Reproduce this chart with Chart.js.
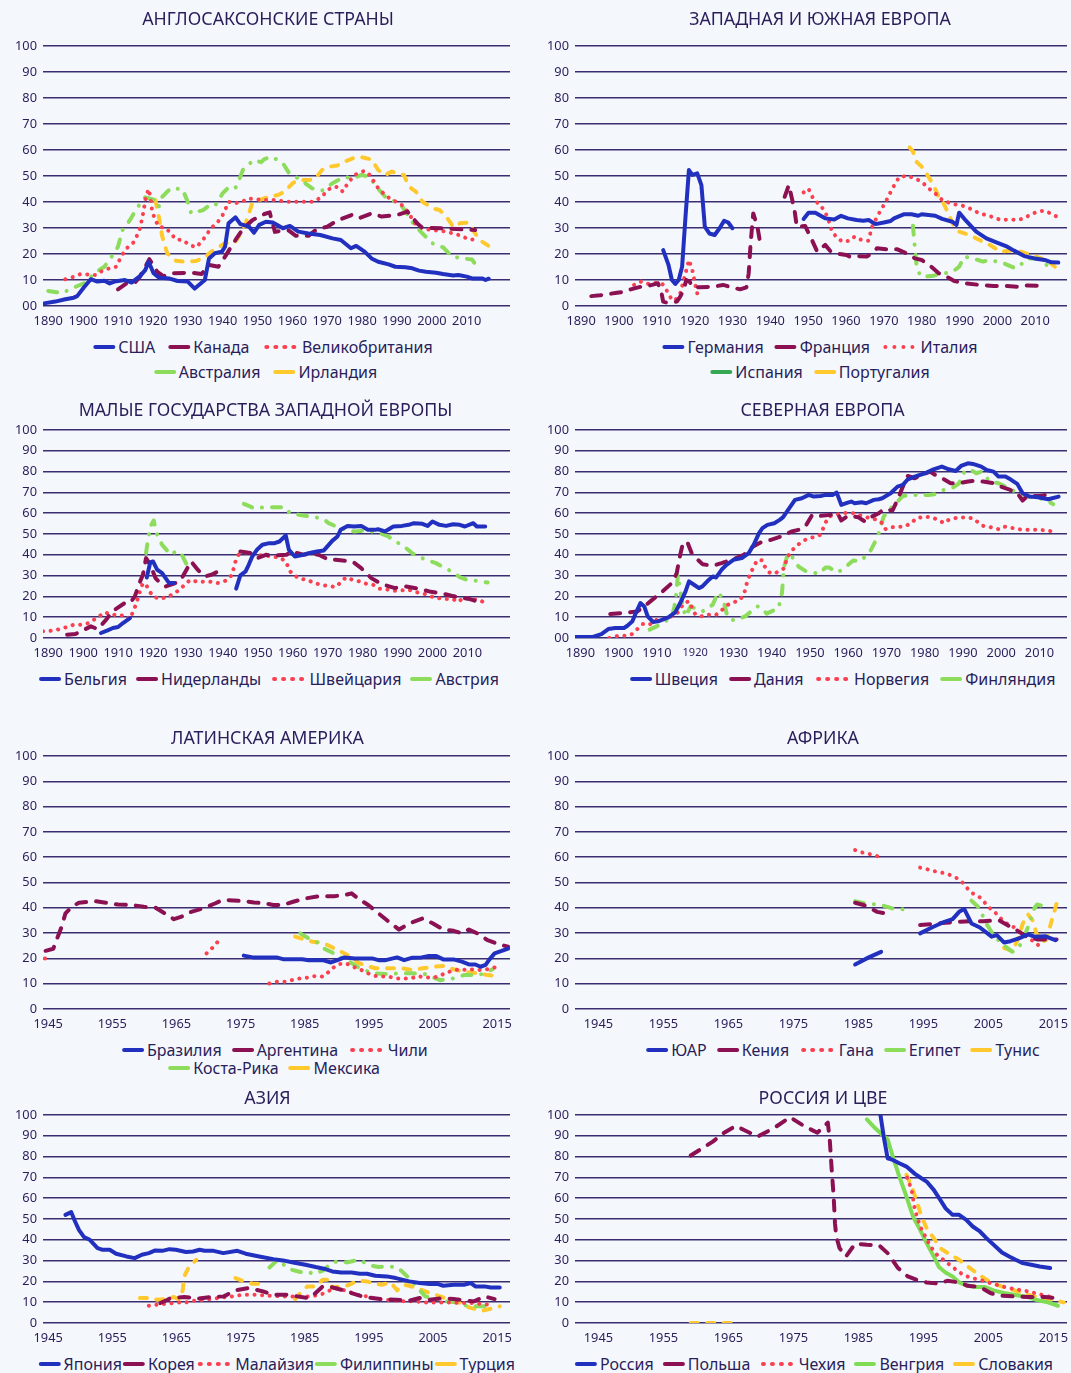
<!DOCTYPE html>
<html>
<head>
<meta charset="utf-8">
<script src="https://cdn.jsdelivr.net/npm/chart.js@4.4.1/dist/chart.umd.min.js"></script>
<style>
  body { margin: 0; width: 1071px; height: 1373px; overflow: hidden; position: relative;
         background: #f4f8fd; font-family: 'Noto Sans', sans-serif; color: #2a1d5a; }
  canvas { position: absolute; }
  .ttl { position: absolute; font-size: 17.8px; white-space: nowrap; transform: translate(-50%, -50%); }
  .lg { position: absolute; display: flex; align-items: center; white-space: nowrap;
        font-size: 16px; transform: translate(-50%, -50%); }
  .it { display: flex; align-items: center; }
  .sw { display: block; width: 22px; height: 4.5px; border-radius: 2.5px; margin-right: 3px; }
  .dots { display: flex; gap: 4.5px; margin-right: 6px; margin-left: 2px; }
  .dots i { display: block; width: 4.5px; height: 4.5px; border-radius: 2.5px; }
</style>
</head>
<body>
<script>
// ── Palette / fonts ────────────────────────────────────────────────────────
const BLUE = '#2230c0', MAROON = '#8c1152', RED = '#fb4050', GREEN = '#8edc5c', YELLOW = '#ffc92e';
const INK = '#2a1d5a';
const GRID = '#3a2e70';
const FONT = "'Noto Sans', sans-serif";

// ── Tick labels ────────────────────────────────────────────────────────────
const yearTicksLong = [1890, 1900, 1910, 1920, 1930, 1940, 1950, 1960, 1970, 1980, 1990, 2000, 2010];
const yearTicksShort = [1945, 1955, 1965, 1975, 1985, 1995, 2005, 2015];

// ── Англосаксонские страны ─────────────────────────────────────────────────
const usa = [[1888.8,1],[1892,1.7],[1894.9,2.6],[1897.3,3.2],[1898.3,3.8],[1900.2,7.1],[1902.2,10.3],[1904.1,9.4],[1906.1,9.7],[1907.6,8.7],[1909,9.4],[1912,10],[1913.9,9],[1916.3,11.5],[1917.8,13.8],[1918.8,17],[1920.2,12.6],[1921.7,11],[1924.6,10.6],[1927.1,9.6],[1930,9.4],[1932,6.7],[1934.9,10],[1936.1,18.3],[1937.8,20.3],[1939.8,20.9],[1940.7,22.8],[1941.7,31.8],[1943.7,34.1],[1945.1,31.5],[1947.6,30.5],[1949,28.2],[1950.5,31.2],[1952.4,32.4],[1954.4,32.1],[1957.3,29.9],[1959.3,30.8],[1961.7,28.6],[1964.6,27.9],[1968,27.3],[1971.5,26],[1973.9,25.4],[1976.8,22.2],[1978.3,23.1],[1980.7,20.9],[1982.7,18.3],[1984.6,17],[1987.6,16],[1989.5,15.1],[1992.4,14.9],[1994.4,14.5],[1996.3,13.6],[1998.3,13.2],[2001.2,12.8],[2003.2,12.3],[2006.1,11.7],[2007.6,11.9],[2010,11.3],[2011.5,10.6],[2014.4,10.6],[2015.4,10],[2016.3,10.5]];
const canada = [[1910,6.4],[1912.4,8.7],[1914.9,9],[1916.3,11.3],[1919,18],[1921.2,13.2],[1923,11.5],[1926,12.6],[1931,12.8],[1934,12.3],[1936,15.8],[1938.8,15.1],[1940.7,19],[1943.7,25.4],[1945.6,29.2],[1948.5,33],[1952,35.4],[1953.5,36],[1955,28.5],[1957,29],[1959,29],[1961,27],[1964.6,27],[1967,29.5],[1970,30.5],[1973,33],[1977,35],[1979,33.7],[1982.7,35.6],[1985.6,34.4],[1990,35],[1993,36.3],[1996,31.5],[1997.3,30],[2003,29.9],[2012.4,29.2]];
const uk = [[1894.9,10.3],[1896.8,11],[1899.3,12.3],[1903.7,11.9],[1905.6,13.6],[1907.6,14.5],[1909.5,15.1],[1910.5,17.9],[1911.5,20.3],[1912.9,22.8],[1914.4,24.4],[1915.4,26.9],[1916.3,29.9],[1916.8,33],[1917.3,36.3],[1918,42],[1918.8,45],[1919.3,42],[1919.8,36.3],[1920.7,33],[1921.7,30.5],[1923.7,30],[1925.1,28],[1926.6,25.6],[1928.5,25.4],[1930.5,23.5],[1932.4,22.6],[1933.9,24.7],[1935.4,27.3],[1936.6,29.9],[1938.3,31.8],[1939.8,34.4],[1940.7,36.9],[1941.7,40.1],[1943.5,39.5],[1945.6,40.1],[1947.4,41.4],[1949.5,41],[1951.5,40.8],[1954.4,40.8],[1958.3,40.1],[1962.2,40.1],[1966.1,40.1],[1968.5,42],[1970,44.6],[1971.9,45.9],[1973.4,45.6],[1974.4,44],[1975.9,47.2],[1977.8,50.4],[1979.3,51.3],[1980.7,52],[1982.2,50.4],[1983.7,47.2],[1984.6,45.3],[1986.6,42.7],[1988.5,40.8],[1990.5,39.7],[1992,38.2],[1993.4,35.6],[1995.4,31.2],[1997.3,29.9],[1999.8,29.2],[2002.2,29],[2004.1,28.6],[2006.1,27.9],[2008.5,27],[2010.5,25.6],[2012.4,25.6]];
const australia = [[1890,5.8],[1892.4,5.3],[1893.9,4.9],[1896.8,6.8],[1900.7,9],[1903.2,12.6],[1906.1,15.1],[1908.5,19.6],[1910,22.8],[1911.3,29.2],[1913.4,33],[1915.4,37.6],[1917.8,41.8],[1920.7,40.8],[1921.7,38.2],[1922.7,42],[1925.1,45.3],[1928.5,44.9],[1930,40.1],[1931,35.6],[1934.4,36.9],[1936.3,38.8],[1937.8,38.5],[1940,43.3],[1941.9,45.9],[1943.7,45.5],[1944.4,47.4],[1945.9,52.6],[1949,56.2],[1951,55.3],[1952,56.5],[1954.1,57.4],[1957.3,54.9],[1959.1,51],[1962.2,48.7],[1965.6,45.3],[1968.5,44.4],[1971.5,47.2],[1974.9,49.7],[1977.3,49.1],[1979.8,50.4],[1982.2,49.7],[1983.7,46.5],[1986.6,42],[1989.5,40.1],[1991.5,38.2],[1993.4,34.4],[1994.9,31.2],[1997.3,27.9],[2000.2,24.1],[2002.2,22.8],[2003.2,22.6],[2005.8,19],[2009,18.3],[2011.5,17.9],[2012.4,16.2]];
const ireland = [[1920.7,40.8],[1921.7,34.4],[1922.7,26.7],[1924.1,20.3],[1926.6,17.4],[1929.5,17],[1932.4,17.3],[1934.9,18.7],[1937.3,21.5],[1940.7,24.1],[1943.7,24.7],[1945.1,27.9],[1946.6,31.8],[1948.5,39.5],[1950.5,40.8],[1953.4,42],[1955.9,42.7],[1957.8,44],[1960.2,47.4],[1962.2,48.5],[1965.1,48.5],[1966.6,49.1],[1968.5,52.3],[1970.5,53.6],[1972.9,54],[1974.9,55.5],[1977.3,56.8],[1979.3,57.4],[1981.2,56.8],[1982.7,56.4],[1984.6,52.3],[1986.6,50.4],[1988.5,51.7],[1990,51],[1992,50.4],[1993.4,45.9],[1995.4,44],[1997.3,40.1],[2000.2,37.6],[2002.2,36.9],[2004.1,34.4],[2006.1,30.5],[2008,31.8],[2010.5,32.1],[2012.4,27.9],[2014.4,24.7],[2016.3,23.1]];

// ── Западная и Южная Европа ────────────────────────────────────────────────
const germany = [[1911.7,21.5],[1913.1,15.8],[1914,10],[1914.9,8.5],[1915.8,10],[1916.7,15.1],[1917.6,34.4],[1918.5,52.3],[1919.4,50.4],[1920.7,51],[1921.8,46.5],[1922.7,30.5],[1923.9,27.9],[1925.3,27.3],[1926.6,29.9],[1927.8,32.8],[1928.9,32.1],[1930,29.9],[1940,null],[1948.8,33.5],[1950.1,35.9],[1951.9,35.9],[1954.6,33.7],[1956.9,33.3],[1958.7,34.7],[1960.5,33.7],[1962.8,33.1],[1964.6,32.8],[1966,33.1],[1967.8,31.5],[1970,32.1],[1971.8,32.7],[1972.7,33.7],[1975.4,35.3],[1977.3,35.3],[1979.1,34.7],[1980,35.3],[1983.6,34.7],[1985.4,33.5],[1988.1,32.4],[1989.2,31.2],[1989.9,35.9],[1991.7,32.8],[1994.4,28.6],[1997.1,26],[1999.9,24.4],[2002.6,22.8],[2004.4,21.3],[2007.1,19.2],[2009.8,18.3],[2012.5,17.7],[2014.3,16.8],[2016.1,16.7]];
const france = [[1892.7,3.8],[1895,4.1],[1899.5,5.1],[1901.3,5.4],[1903.1,6.4],[1905.8,7.4],[1907.6,7.7],[1910.3,8.7],[1911.1,6.2],[1911.7,1.7],[1912.6,1.3],[1915.3,1.7],[1916.2,3.6],[1917.1,6.2],[1917.8,10],[1918.7,9.4],[1919.4,7.4],[1921.2,7.2],[1924.8,7.4],[1927.5,8.1],[1929.8,7.2],[1932,6.4],[1933.7,7.2],[1934.3,12.6],[1934.8,24.1],[1935.5,35.6],[1936.6,30.5],[1937.5,22.8],[1940,null],[1943.8,42],[1944.9,46.5],[1945.8,40.8],[1946.5,35.9],[1947,30.5],[1949.2,30.8],[1950.6,26.7],[1952.4,20.9],[1954.5,23.5],[1956,20.9],[1958.3,20],[1960.1,19.6],[1961,19],[1963.2,19.2],[1965.5,19],[1966.9,20.3],[1968.2,22.2],[1970.9,21.8],[1973.6,21.8],[1976.3,20],[1978.2,18.3],[1980,17.7],[1982.7,14.9],[1984.5,12.6],[1985.8,11.9],[1988.6,9.6],[1991.7,8.7],[1995.3,8.1],[1999,7.7],[2002.6,7.7],[2005.3,7.4],[2008,7.9],[2012.5,7.7]];
const italy = [[1904,8.1],[1905.8,9.4],[1907.6,8.5],[1909.9,9],[1911.4,8.7],[1913.1,4.9],[1914,2.3],[1914.9,2.3],[1916.2,4.9],[1917.6,12.6],[1918.5,17.7],[1919.4,13.8],[1920.1,8.7],[1920.7,4.9],[1935,null],[1948.8,43.7],[1950.1,45.1],[1951.5,40.8],[1953.3,38.8],[1955.1,34.4],[1956.3,28.6],[1957.8,26],[1959.2,24.7],[1961,25.1],[1962.3,26.7],[1964.1,25.4],[1965.9,25.1],[1966.9,30.5],[1968.7,35.6],[1970.5,40.1],[1972.3,45.3],[1974.1,49.7],[1976.3,50],[1978.2,49.1],[1980,47.8],[1981.8,45.3],[1983.6,43.3],[1985.4,40.8],[1988.1,39.2],[1990.4,38.8],[1992.6,37.6],[1995.3,35.6],[1998,34.6],[2000.8,33.1],[2003.5,33.3],[2005.3,33.1],[2007.1,33.7],[2008.9,35.3],[2010.7,36.3],[2012.5,36.7],[2014.3,35.4],[2016.1,34.1]];
const spain = [[1977.7,30.9],[1978,25.4],[1978.3,21.3],[1978.6,16.4],[1979.5,11.9],[1980,11.3],[1982.7,11.5],[1985.8,12.6],[1987.6,12.8],[1989,14.1],[1989.9,15.1],[1991.3,19],[1994.9,17.7],[1996.2,17.1],[1998,17.7],[2001.7,16.4],[2004.8,14.5],[2006.6,16.4],[2008,18.3],[2010.7,18.3],[2012.5,16.4],[2014.8,13.8]];
const portugal = [[1976.8,61],[1977.7,59.4],[1978.6,55.5],[1980,53.6],[1981.8,49.7],[1983.1,46.5],[1984.5,42],[1985.8,39.5],[1987.2,35],[1988.6,30.5],[1989.9,28.6],[1992.6,27.3],[1995.3,25.4],[1998,23.5],[2000.8,20.9],[2003.5,21.3],[2006.2,20.9],[2008.9,19.6],[2011.6,18.3],[2013.4,17.1],[2015.2,15.1]];

// ── Малые государства Западной Европы ──────────────────────────────────────
const belgium = [[1905.1,2.4],[1907,3.7],[1908.5,4.8],[1910,5.3],[1911.4,7.2],[1913.4,9.6],[1916,null],[1918.2,29.1],[1919.2,36.3],[1920,36.8],[1921.2,32.8],[1922.6,31.2],[1923.6,28.8],[1924.6,26.4],[1926,26.4],[1935,null],[1943.8,23.7],[1945,30.1],[1946.5,32],[1947.4,35.2],[1948.4,39.2],[1949.9,42.7],[1951.3,44.8],[1953.3,45.6],[1954.8,45.6],[1956.2,46.4],[1958,49.3],[1958.9,42.4],[1960.6,39.2],[1963,40],[1964.5,40.8],[1966.9,41.6],[1968.9,42.1],[1970.3,44.8],[1971.3,46.7],[1972.8,48.8],[1973.7,52],[1975.7,53.9],[1977.6,53.6],[1979.6,53.9],[1981.5,52],[1983.5,52],[1984.4,52.3],[1986.4,51.2],[1988.8,53.6],[1991.3,53.9],[1993.2,54.4],[1994.7,55.2],[1997.1,54.9],[1998.6,53.9],[2000,56],[2002,54.4],[2003.9,53.9],[2005.9,54.7],[2007.8,54.4],[2009.3,53.6],[2011.7,55.2],[2012.7,53.6],[2015.1,53.6]];
const netherlands = [[1895.4,1.6],[1897.8,1.9],[1902.2,5.6],[1904.1,4.3],[1906.6,8.8],[1908.3,12.8],[1911.9,16.8],[1913.4,16.8],[1914.8,20],[1916.1,26.4],[1917.1,30.4],[1918,38.4],[1919.2,35.2],[1920.7,28.8],[1922.1,26.4],[1923.6,24.8],[1927,26.7],[1928.5,29.6],[1930.9,36.8],[1932.8,32.8],[1934.8,29.6],[1936.7,30.4],[1938.7,32],[1942,null],[1945,41.6],[1947.9,40.8],[1949.9,38.4],[1952.3,40],[1955.2,39.7],[1958.2,40],[1959.6,41.6],[1963,40],[1965.5,40.8],[1967.9,39.7],[1970.3,37.6],[1972.3,37.6],[1977.1,36.8],[1979.6,33.6],[1982.5,28.8],[1985.4,25.9],[1989.3,24],[1992.2,24.8],[1996.1,23.7],[1999.1,22.4],[2003,21.3],[2005.4,20.3],[2008.8,19.2],[2010.7,18.7],[2012.7,17.6]];
const switzerland = [[1888.5,3.2],[1891,3.5],[1893.4,4.3],[1895.4,5.3],[1897.3,6.4],[1899.7,6.4],[1901.7,7.2],[1903.1,8.8],[1904.6,10.4],[1906.1,12.3],[1907.5,11.7],[1910,10.7],[1911.9,11],[1913.4,9.1],[1914.3,12.8],[1915.1,16],[1916.3,22.7],[1917.1,26.4],[1918,25.6],[1919,22.4],[1920.2,19.7],[1922.1,18.9],[1924.1,19.7],[1926,21.3],[1928,23.7],[1929.4,26.4],[1930.9,28],[1932.8,26.9],[1935.8,27.2],[1938.7,26.4],[1941.1,27.7],[1942.6,30.4],[1943.6,36.8],[1944.5,40],[1946.5,41.1],[1948.9,40],[1951.3,39.7],[1954.3,39.2],[1956.7,38.4],[1958.2,36.3],[1958.9,32.8],[1960.1,30.4],[1962.1,28.5],[1964,28],[1965.9,26.7],[1967.9,25.6],[1969.8,25.1],[1972.3,24.5],[1973.7,26.7],[1975.2,29.1],[1977.1,28],[1979.1,27.2],[1981,26.1],[1983,25.6],[1984.9,23.7],[1987.4,23.2],[1989.3,22.7],[1991.3,22.9],[1993.2,23.2],[1995.2,22.1],[1997.6,21.3],[1999.5,20],[2001.5,19.2],[2003.9,18.7],[2005.9,18.7],[2007.3,17.3],[2008.8,19.2],[2011.2,18.7],[2013.2,18.4],[2014.6,17.3]];
const austria = [[1918,40.8],[1918.4,45.6],[1919.2,53.6],[1920.2,56.5],[1921,50.4],[1922.6,44.8],[1925.1,40],[1926.5,41.6],[1928,40.8],[1929.9,34.4],[1938,null],[1946,64.5],[1947.4,63.5],[1948.9,62.4],[1952.5,62.9],[1956.7,62.9],[1958.2,62.4],[1959.1,60],[1963,58.9],[1966.9,57.9],[1968.9,57.1],[1970.3,55.2],[1973.5,52.8],[1977.6,51.2],[1979.6,51.5],[1981.5,51.7],[1985.4,50.1],[1987.4,48.8],[1989.3,46.4],[1991.3,44.8],[1994.4,40.5],[1998.1,37.6],[2001,36],[2005.1,32.3],[2007.8,29.3],[2009.8,28],[2011.7,27.7],[2015.8,26.7]];

// ── Северная Европа ────────────────────────────────────────────────────────
const sweden = [[1888.8,0.5],[1893.3,0.5],[1895.5,1.9],[1897.3,4.3],[1899.1,4.8],[1901.4,4.8],[1902.3,5.9],[1903.6,8],[1904.5,12],[1905.7,16.8],[1906.7,15.2],[1907.6,10.4],[1909,7.7],[1910.3,8],[1913,9.9],[1914.8,12.3],[1916.1,16.8],[1917.5,22.4],[1918.4,27.2],[1919.7,25.6],[1921,24],[1921.9,24.8],[1923.3,27.5],[1924.6,29.6],[1925.5,29.1],[1926.9,32.8],[1928.2,35.2],[1930,37.6],[1932.2,38.4],[1934,40.8],[1935.3,44.8],[1936.7,50.4],[1937.6,52.8],[1938.9,54.4],[1940.7,55.2],[1942.1,56.8],[1943,58.1],[1944.3,61.6],[1946.1,66.4],[1947.9,67.2],[1949.7,68.8],[1951,68],[1952.8,68.3],[1954.1,68.8],[1955.9,68.8],[1957,69.9],[1958.2,64],[1959.9,65.1],[1960.8,65.6],[1961.7,64.8],[1963.5,65.3],[1964.7,64.8],[1966.7,66.4],[1968,66.7],[1968.9,67.2],[1971.1,69.6],[1972.9,72.8],[1974.3,73.6],[1975.6,76.3],[1977.4,77.6],[1980.1,79.2],[1981.9,80.8],[1984.5,82.4],[1986.3,81.1],[1988.1,80.3],[1989.5,82.7],[1991.3,84],[1992.6,83.7],[1994.8,82.4],[1996.2,80.8],[1998,80],[1999.3,77.6],[2001.1,77.6],[2002.4,76.3],[2004.2,74.1],[2005.6,69.6],[2007.4,68],[2009.6,67.7],[2012.3,66.7],[2015,68]];
const denmark = [[1897.8,11.5],[1900.9,12],[1904.9,12.8],[1906.7,15.2],[1909,18.7],[1911.2,21.9],[1913.9,26.4],[1915.2,31.2],[1915.9,38.4],[1916.7,44.8],[1917.9,46.4],[1919.2,40.3],[1921.9,35.5],[1924.6,34.7],[1926.9,36],[1930,37.9],[1932.7,40],[1934.9,43.7],[1937.1,45.9],[1939.8,47.2],[1942.5,48.8],[1945.2,51.2],[1947,52],[1948.8,53.6],[1950.6,59.2],[1952.3,58.7],[1955.5,59.2],[1957.3,59.7],[1958.2,56.5],[1959.9,58.7],[1962.6,58.1],[1964.4,56],[1966.2,58.4],[1968,60],[1969.3,61.9],[1971.6,61.3],[1972.9,66.4],[1974.3,72.8],[1975.6,77.9],[1977.4,76.8],[1979.2,78.4],[1981.4,80],[1983.2,77.9],[1985,76.3],[1986.8,74.4],[1989,74.4],[1991.3,75.2],[1993.5,75.7],[1995.3,75.2],[1998,74.4],[1999.8,72.8],[2002,71.5],[2004.2,69.6],[2005.6,66.1],[2006.9,68.3],[2010,68.3],[2011.8,68.8],[2013.6,67.2]];
const norway = [[1897.6,0],[1900,1.1],[1901.8,1.1],[1903.6,1.9],[1904.9,4.3],[1906.3,6.7],[1908.1,6.4],[1909.4,8.5],[1911.6,9.1],[1913.4,10.1],[1915.2,11.7],[1916.1,13.9],[1917,16.8],[1918.4,17.6],[1919.2,14.4],[1920.1,11.2],[1921.9,10.4],[1923.7,11.2],[1925.5,11.2],[1927.1,13.6],[1928.6,16],[1930,17.1],[1931.8,18.4],[1932.8,21.3],[1933.7,27.7],[1934.6,31.5],[1935.5,35.2],[1936.4,37.6],[1937.6,37.3],[1938.2,34.4],[1939.4,31.5],[1940.7,30.9],[1943.4,33.6],[1943.8,37.3],[1944.7,40.8],[1945.9,43.2],[1947.4,45.6],[1948.8,47.2],[1950.6,48.3],[1952.8,49.6],[1954,55.2],[1955,58.4],[1956.8,59.2],[1958.6,60],[1960.4,60.3],[1962.2,59.7],[1964,58.4],[1965.8,57.6],[1967.6,56.8],[1968.9,55.2],[1969.8,52.3],[1971.6,53.3],[1974.7,53.6],[1976.5,55.2],[1977.8,57.6],[1980.1,58.4],[1981.9,57.9],[1983.6,56.8],[1985,55.2],[1986.3,56.8],[1988.6,57.9],[1990.4,57.9],[1992.6,57.6],[1993.9,55.7],[1995.3,53.9],[1997.1,53.3],[1999.3,52.3],[2000.6,53.6],[2002.4,53.1],[2004.2,52.3],[2006.9,52],[2009.6,52],[2012.3,51.7],[2014.1,50.7]];
const finland = [[1908.1,4],[1910.3,5.9],[1911.6,7.2],[1913.9,10.1],[1914.6,15.2],[1915,20],[1915.5,30.4],[1916.1,23.2],[1916.7,16],[1917.5,10.4],[1918.8,15.2],[1921.9,12.8],[1924.6,16],[1926,21.9],[1927.3,18.7],[1928.2,12],[1929.1,8.8],[1930.4,8.5],[1933.1,10.4],[1936.2,15.2],[1937.1,14.9],[1938.7,11.7],[1941.8,14.4],[1942.7,21.6],[1943.2,33.9],[1944.3,40.8],[1945.6,38.4],[1947,34.4],[1948.8,32.3],[1952.3,30.9],[1954.1,33.9],[1955,33.9],[1957.3,31.5],[1959.5,34.4],[1961.3,37.3],[1963.1,36.8],[1965.6,41.1],[1967.1,46.4],[1968,50.4],[1969.3,58.4],[1971.1,62.4],[1972.9,65.6],[1974.3,68.3],[1977.4,68.8],[1981,68.8],[1983.2,69.3],[1985,71.2],[1987.4,72.3],[1989,74.4],[1990.4,80],[1991.7,81.1],[1993.5,79.2],[1994.8,80],[1997.1,75.2],[1999.3,74.4],[2001.1,72.8],[2002.4,71.5],[2004.2,69.9],[2006.9,68],[2009.6,67.2],[2011.4,66.7],[2013.6,64.3]];

// ── Латинская Америка ──────────────────────────────────────────────────────
const brazil = [[1975.5,21.1],[1976.9,20.4],[1980.6,20.4],[1981.6,19.7],[1984.6,19.7],[1985.6,19.3],[1987.8,19.3],[1989.1,18.4],[1990.1,19.3],[1991.2,20.4],[1992.8,20],[1995.5,20],[1996.5,19.3],[1997.6,19.3],[1999.4,20.4],[2000.5,19.3],[2001.8,20.3],[2003.2,20.4],[2004.2,20.9],[2005.5,20.9],[2006.6,19.6],[2008.2,19.6],[2009.5,18.7],[2010.6,17.6],[2011.6,17.6],[2012.4,16.7],[2013.2,17.4],[2013.8,19.6],[2014.6,22],[2015.6,22.9],[2016.7,23.9]];
const argentina = [[1944.6,23],[1945.8,23.8],[1946.3,27.2],[1947,31.8],[1947.7,37.8],[1948.7,40.4],[1949.8,42],[1952.4,42.6],[1954,42],[1955.9,41.3],[1958,41.1],[1959.9,40.4],[1961.7,40.1],[1963.6,37.1],[1964.6,35.5],[1965.7,36.4],[1967.3,38.4],[1969.4,40],[1971,41.7],[1972.1,43],[1973.1,43],[1975.8,42.6],[1977.1,42.1],[1979,41.7],[1980.1,41.1],[1981.6,41.1],[1983.2,42.4],[1985.1,43.7],[1987.2,44.6],[1989.6,44.6],[1991.2,45],[1992.3,45.7],[1993.3,43.7],[1994.9,41.1],[1996.5,37.8],[1998.1,34.5],[1999.7,31.4],[2001.3,33.8],[2003.4,35.8],[2005,33.8],[2006.6,31.4],[2008.2,30.9],[2009.5,29.9],[2010.6,31.4],[2011.9,29.9],[2013.5,27.2],[2015.1,25.7],[2016.7,24.6]];
const chile = [[1944.5,20],[1944.8,20],[1957,null],[1969.7,22],[1970.5,23.9],[1971.3,26.2],[1972.2,28.3],[1976,null],[1979.5,10.1],[1980.6,10.8],[1981.9,10.8],[1983,11.4],[1984.3,12.1],[1985.4,12.4],[1986.4,13],[1987.8,12.8],[1988.5,14.1],[1989.3,16.1],[1990.4,17.8],[1991.5,18],[1992.5,16.7],[1993.6,15.7],[1994.7,14.3],[1995.7,13.2],[1996.8,12.8],[1998.1,12.8],[1999.2,12.1],[2000.5,12.1],[2001.6,12.1],[2002.6,13],[2003.7,12.5],[2005,12.4],[2006.1,13],[2006.9,14.3],[2009,15.7],[2010.3,15.4],[2011.4,15.7],[2012.4,15.4],[2013.5,15.7],[2014.6,16.4]];
const costaRica = [[1984.3,29.9],[1985.6,27.9],[1987,26.2],[1988,23.9],[1990.1,21.3],[1990.9,20],[1991.7,19.1],[1993.6,16.1],[1995.7,14.1],[1997.6,13.8],[1999.8,14.1],[2001.8,14.1],[2003.7,13.8],[2006.1,11.4],[2008.2,12.1],[2009.8,13.4],[2012.2,13.4],[2014.3,15.7]];
const mexico = [[1983.5,28.6],[1984.8,27.6],[1986.2,26.6],[1987.8,26.2],[1989.1,24.6],[1990.7,22.6],[1992.3,20.4],[1993.3,18.3],[1994.7,17],[1996,16.1],[1998.6,16.1],[2000.2,16.1],[2001.8,15.4],[2003.4,16.1],[2005,16.7],[2006.6,17],[2008.2,15.7],[2009.8,14.7],[2011.9,14.1],[2013.5,13.4],[2015.4,12.8]];

// ── Африка ─────────────────────────────────────────────────────────────────
const southAfrica = [[1984.5,17.6],[1986.6,20.4],[1988.5,22.6],[1991,null],[1994.5,29.9],[1996.3,32.2],[1997.9,34.1],[1999.5,35.5],[2000.5,38.4],[2001.3,39.5],[2002.4,33.8],[2003.7,32.2],[2005.5,28.6],[2006.3,29.2],[2007.4,26.3],[2008.4,26.8],[2009.7,27.9],[2011.1,29.5],[2012.1,28.6],[2013.7,28.8],[2015.3,27.2]];
const kenya = [[1984.5,42],[1985.8,41.1],[1987.9,38.4],[1989.7,37.5],[1992,null],[1994.5,33.2],[1996.3,33.6],[1998.4,34.1],[2000.5,34.5],[2002.6,34.7],[2004.2,34.7],[2006.6,35.1],[2007.9,33.2],[2009.5,30.9],[2011.1,28.3],[2012.6,27.5],[2015.5,27.5]];
const ghana = [[1984.5,62.8],[1985.8,61.7],[1986.8,61.2],[1987.9,60.4],[1991,null],[1994.5,55.9],[1995.8,55.1],[1997.1,54.2],[1998.4,53.6],[1999.5,52.6],[2000.5,51.2],[2001.3,49.3],[2001.8,47.6],[2002.6,45.7],[2003.7,44.1],[2005.3,39.7],[2006.1,38],[2006.9,35.8],[2007.6,34.1],[2008.7,32.8],[2010,29.9],[2011.3,27.9],[2012.4,25.9],[2013.4,23.6]];
const egypt = [[1984.5,42.6],[1986.1,41.7],[1988.5,41.1],[1990.3,39.7],[1992.4,39.3],[1997,null],[2002.4,42.8],[2003.7,39.7],[2004.5,34.5],[2005.8,29.2],[2007.1,25.7],[2008.7,22.6],[2009.7,24.3],[2010.5,28.6],[2011.3,33.6],[2011.9,39.1],[2012.5,41.3],[2013.4,40.7]];
const tunisia = [[2007.4,24.2],[2008.7,22.9],[2009.5,27.2],[2010.3,33.8],[2011.1,37.4],[2011.8,35.1],[2012.4,29.9],[2013.2,26.6],[2013.9,27.2],[2014.7,34.5],[2015.5,41.7]];

// ── Азия ───────────────────────────────────────────────────────────────────
const japan = [[1947.7,52],[1948.6,53.3],[1949.2,48.8],[1949.8,44.8],[1950.6,41.3],[1951.5,40],[1952.7,36],[1953.5,35.2],[1954.6,35.2],[1955.6,33.3],[1957.2,32],[1958.5,31.2],[1959.6,32.8],[1960.7,33.6],[1961.7,34.9],[1962.8,34.7],[1963.9,35.5],[1964.9,35.2],[1966.5,34.1],[1967.6,34.4],[1968.6,35.2],[1969.4,34.7],[1970.8,34.7],[1972.3,33.6],[1974.5,34.7],[1975.8,33.3],[1977.9,32],[1980.1,30.7],[1981.6,30.1],[1983.2,29.1],[1985.1,28],[1986.7,26.9],[1988,26.1],[1989.3,24.8],[1990.7,24.3],[1992.3,24.3],[1993.6,23.7],[1994.7,23.7],[1996,22.7],[1997.8,22.4],[1999.2,21.6],[2001.3,20],[2002.9,19.2],[2004.5,18.7],[2005.8,18.7],[2006.6,17.9],[2008.2,18.4],[2009.8,18.4],[2010.9,19.2],[2011.6,17.6],[2013,17.6],[2014,17.1],[2015.4,17.1]];
const korea = [[1962.5,9.6],[1963.6,11.2],[1964.1,12],[1966.2,12.5],[1968.4,11.7],[1970.5,12.5],[1972.4,12.8],[1974.2,15.7],[1976.3,16.8],[1978.5,15.2],[1980.1,13.6],[1982.2,13.6],[1983.8,12.8],[1985.6,12],[1986.4,13.6],[1987.8,17.6],[1989.1,17.3],[1990.7,16],[1992.3,14.4],[1993.9,12.8],[1995.5,12],[1997,11.5],[1999.2,11.2],[2001.3,10.7],[2002.9,12],[2004.5,11.2],[2006.6,12],[2008.2,11.5],[2009.8,10.9],[2011.4,10.4],[2013,12.8],[2014.6,11.5]];
const malaysia = [[1960.7,8.3],[1962,8.8],[1963.6,9.3],[1965.2,9.9],[1966.5,9.9],[1968.1,10.9],[1969.7,11.2],[1971.6,12],[1973.7,12.8],[1975.5,13.6],[1977.4,13.6],[1979.5,13.1],[1981.6,12.8],[1983.8,12.8],[1985.9,12.8],[1987.5,13.6],[1988.5,15.2],[1990.1,16.8],[1991.7,15.2],[1993.1,13.6],[1994.7,12.8],[1996.5,11.5],[1998.4,10.9],[2000.2,10.4],[2002.1,10.4],[2003.7,9.9],[2005.5,9.9],[2007.4,9.9],[2009.3,9.6],[2011.1,9.6],[2012.7,9.1],[2014,8.8]];
const philippines = [[1979.5,26.7],[1980.8,30.4],[1982.6,25.9],[1984.3,24.5],[1985.6,24.5],[1986.4,23.5],[1987.9,25.3],[1989.3,29.1],[1990.7,29.9],[1991.5,29.1],[1993.4,30.4],[1995.5,27.5],[1996.5,26.9],[1997.6,27.2],[1999.4,26.9],[2001,22.4],[2001.8,20],[2002.4,17.6],[2003.8,12.8],[2005.5,11.5],[2007.1,10.4],[2008.7,9.9],[2010.3,8.3],[2011.9,8],[2014,8]];
const turkey = [[1959.3,12],[1960.9,12],[1962,11.2],[1963.6,11.5],[1964.6,12.5],[1965.4,11.2],[1966,16],[1966.2,22.4],[1967,27.2],[1968.1,30.4],[1971,null],[1974.2,21.6],[1975.5,20],[1976.9,18.9],[1978.2,18.9],[1981,null],[1983.5,11.5],[1984.3,14.4],[1985.4,17.6],[1986.7,17.6],[1987.8,20.8],[1988.8,20.8],[1989.3,16.8],[1990.4,17.6],[1991.7,18.1],[1993.3,20.3],[1994.7,20],[1996,18.9],[1997,18.4],[1998.4,19.5],[1999.4,15.7],[2000.5,18.4],[2001.3,17.9],[2002.9,16.3],[2004.5,14.4],[2006.1,12.8],[2007.7,10.9],[2009.3,9.6],[2010.6,7.5],[2011.6,6.7],[2012.7,5.9],[2014,6.9],[2015.4,8]];

// ── Россия и ЦВЕ ───────────────────────────────────────────────────────────
const russia = [[1988.4,100],[1988.9,89.6],[1989.5,79.2],[1990.3,78.4],[1991.3,76.8],[1992.4,75.2],[1993.7,71.7],[1994.7,69.6],[1995.5,68],[1996.6,64],[1997.6,59.2],[1998.4,55.2],[1999.5,52],[2000.5,52],[2001.6,49.6],[2002.6,46.4],[2003.7,44],[2004.7,40.8],[2006.1,36.8],[2007.1,33.9],[2008.2,32],[2009.2,30.4],[2010.3,28.8],[2011.6,28],[2012.9,27.2],[2014.5,26.4]];
const poland = [[1959.2,80.5],[1962.6,87.2],[1964.2,91.2],[1966.1,94.7],[1967.4,92.8],[1969.5,89.6],[1972.1,93.9],[1974.5,98.9],[1976.8,94.4],[1978.7,91.5],[1980.3,96.3],[1980.6,88],[1980.9,73.6],[1981.2,60.8],[1981.4,48],[1981.6,41.6],[1982.1,36],[1983.1,32],[1984.5,38.1],[1986.3,37.6],[1988.2,37.3],[1989.5,33.6],[1991.1,26.4],[1992.6,22.4],[1993.9,20.8],[1995.5,19.5],[1997.4,18.9],[1998.7,20.3],[2000.5,19.5],[2001.8,17.9],[2003.7,17.3],[2005.3,14.4],[2006.8,13.1],[2008.9,12.8],[2011.1,12.5],[2013.7,12.5],[2015.3,12]];
const czechia = [[1992.5,69.9],[1993.2,64],[1993.7,54.4],[1994.5,46.4],[1995.3,41.6],[1996.1,36.8],[1997.1,32.8],[1998.4,29.6],[1999.7,26.4],[2001.1,23.2],[2002.4,21.6],[2003.7,20.8],[2005.3,19.2],[2007.1,17.6],[2009,16.3],[2011.1,15.2],[2013.2,13.6],[2015.3,12]];
const hungary = [[1986.3,97.9],[1987.6,93.6],[1988.7,90.4],[1989.5,88.3],[1990.3,80],[1991.3,70.4],[1992.4,60.8],[1993.4,51.2],[1994.5,44.8],[1995.5,38.4],[1996.6,32],[1997.4,26.9],[1998.4,24.3],[1999.5,22.4],[2000.5,19.5],[2001.8,17.9],[2003.2,17.3],[2004.5,17.3],[2005.8,15.7],[2007.4,14.4],[2008.9,13.6],[2011.1,12.5],[2012.6,10.9],[2014.2,9.9],[2015.7,8.3]];
const slovakia = [[1959.2,0],[1966.7,0],[1980,null],[1992.4,71.2],[1993.2,65.6],[1994,58.4],[1994.7,51.2],[1995.5,45.6],[1996.6,40.8],[1997.6,36],[1998.9,33.3],[2000.5,30.4],[2001.8,27.2],[2003.2,24],[2004.7,20.8],[2006.3,18.4],[2007.9,16.8],[2009.5,15.2],[2011.1,13.6],[2013.2,12],[2014.7,11.2],[2016.6,9.9]];

// ── Line styles (round caps add half the width to each dash end) ──────────
const LINE = {
  solid:   { dash: [] },
  dash:    { dash: [10, 10] },
  dashY:   { dash: [7, 9.5] },
  dot:     { dash: [0.1, 7.5] },
  dashdot: { dash: [9, 10, 0.1, 10] },
};

function S(label, data, color, kind, swatch) {
  return { label, data, color, kind, swatch: swatch || color };
}

// ── Panels ─────────────────────────────────────────────────────────────────
// plot area = canvas top + 20 (padding) down to canvas bottom − 30 (x axis)
const LEFT = { x: 0, w: 530, yw: 43, padR: 20 };
const RIGHT = { x: 535, w: 548, yw: 40, padR: 16 };
const ROWS = [
  { top: 26, h: 310, xPad: 8 },
  { top: 410, h: 258, xPad: 8 },
  { top: 736, h: 303, xPad: 8 },
  { top: 1095, h: 258, xPad: 8 },
];

const panels = [
  { title: 'АНГЛОСАКСОНСКИЕ СТРАНЫ', tx: 268, ty: 18, col: LEFT, row: ROWS[0],
    xMin: 1888.5, xMax: 2022.4, ticks: yearTicksLong, zero: '00',
    series: [S('США', usa, BLUE, 'solid'), S('Канада', canada, MAROON, 'dash'), S('Великобритания', uk, RED, 'dot'),
             S('Австралия', australia, GREEN, 'dashdot'), S('Ирландия', ireland, YELLOW, 'dashY')],
    legend: { rows: [[0, 1, 2], [3, 4]], cx: [263, 265.5], cy: [347, 372], gap: 13 } },
  { title: 'ЗАПАДНАЯ И ЮЖНАЯ ЕВРОПА', tx: 820, ty: 18, col: RIGHT, row: ROWS[0],
    xMin: 1888.4, xMax: 2018.4, ticks: yearTicksLong, zero: '0',
    series: [S('Германия', germany, BLUE, 'solid'), S('Франция', france, MAROON, 'dash'), S('Италия', italy, RED, 'dot'),
             S('Испания', spain, GREEN, 'dashdot', '#34a853'), S('Португалия', portugal, YELLOW, 'dashY')],
    legend: { rows: [[0, 1, 2], [3, 4]], cx: [820, 820], cy: [347, 372], gap: 11 } },
  { title: 'МАЛЫЕ ГОСУДАРСТВА ЗАПАДНОЙ ЕВРОПЫ', tx: 265.5, ty: 408.5, col: LEFT, row: ROWS[1],
    xMin: 1888.5, xMax: 2022.2, ticks: yearTicksLong, zero: '0',
    series: [S('Бельгия', belgium, BLUE, 'solid'), S('Нидерланды', netherlands, MAROON, 'dash'),
             S('Швейцария', switzerland, RED, 'dot'), S('Австрия', austria, GREEN, 'dashdot')],
    legend: { rows: [[0, 1, 2, 3]], cx: [269], cy: [679], gap: 9 } },
  { title: 'СЕВЕРНАЯ ЕВРОПА', tx: 822.5, ty: 408.5, col: RIGHT, row: ROWS[1],
    xMin: 1888.6, xMax: 2017.2, ticks: yearTicksLong, zero: '00', smallTick: 1920,
    series: [S('Швеция', sweden, BLUE, 'solid'), S('Дания', denmark, MAROON, 'dash'),
             S('Норвегия', norway, RED, 'dot'), S('Финляндия', finland, GREEN, 'dashdot')],
    legend: { rows: [[0, 1, 2, 3]], cx: [842.5], cy: [679], gap: 11 } },
  { title: 'ЛАТИНСКАЯ АМЕРИКА', tx: 267.5, ty: 736.5, col: LEFT, row: ROWS[2],
    xMin: 1944.2, xMax: 2017, ticks: yearTicksShort, zero: '0',
    series: [S('Бразилия', brazil, BLUE, 'solid'), S('Аргентина', argentina, MAROON, 'dash'), S('Чили', chile, RED, 'dot'),
             S('Коста-Рика', costaRica, GREEN, 'dashdot'), S('Мексика', mexico, YELLOW, 'dashY')],
    legend: { rows: [[0, 1, 2], [3, 4]], cx: [274.8, 274.2], cy: [1050, 1068], gap: 10 } },
  { title: 'АФРИКА', tx: 823, ty: 736.5, col: RIGHT, row: ROWS[2],
    xMin: 1941.4, xMax: 2017.1, ticks: yearTicksShort, zero: '0',
    series: [S('ЮАР', southAfrica, BLUE, 'solid'), S('Кения', kenya, MAROON, 'dash'), S('Гана', ghana, RED, 'dot'),
             S('Египет', egypt, GREEN, 'dashdot'), S('Тунис', tunisia, YELLOW, 'dashY')],
    legend: { rows: [[0, 1, 2, 3, 4]], cx: [843], cy: [1050], gap: 10 } },
  { title: 'АЗИЯ', tx: 267.5, ty: 1096.5, col: LEFT, row: ROWS[3],
    xMin: 1944.2, xMax: 2017, ticks: yearTicksShort, zero: '0',
    series: [S('Япония', japan, BLUE, 'solid'), S('Корея', korea, MAROON, 'dash'), S('Малайзия', malaysia, RED, 'dot'),
             S('Филиппины', philippines, GREEN, 'dashdot'), S('Турция', turkey, YELLOW, 'dashY')],
    legend: { rows: [[0, 1, 2, 3, 4]], cx: [276.8], cy: [1364], gap: 1 } },
  { title: 'РОССИЯ И ЦВЕ', tx: 823, ty: 1096.5, col: RIGHT, row: ROWS[3],
    xMin: 1941.4, xMax: 2017.1, ticks: yearTicksShort, zero: '0',
    series: [S('Россия', russia, BLUE, 'solid'), S('Польша', poland, MAROON, 'dash'), S('Чехия', czechia, RED, 'dot'),
             S('Венгрия', hungary, '#80dc55', 'solid'), S('Словакия', slovakia, YELLOW, 'dashY')],
    legend: { rows: [[0, 1, 2, 3, 4]], cx: [814], cy: [1364], gap: 9 } },
];

// ── Builders ───────────────────────────────────────────────────────────────
function toDataset(s) {
  return {
    label: s.label,
    data: s.data.map(([x, y]) => ({ x, y })),
    borderColor: s.color,
    backgroundColor: s.color,
    borderWidth: 4,
    borderDash: LINE[s.kind].dash,
    borderCapStyle: 'round',
    borderJoinStyle: 'round',
    pointRadius: 0,
    spanGaps: false,
    fill: false,
  };
}

function addText(cls, text, x, y) {
  const d = document.createElement('div');
  d.className = cls;
  d.textContent = text;
  d.style.left = x + 'px';
  d.style.top = y + 'px';
  document.body.appendChild(d);
}

function addLegend(p) {
  p.legend.rows.forEach((row, r) => {
    const box = document.createElement('div');
    box.className = 'lg';
    box.style.left = p.legend.cx[r] + 'px';
    box.style.top = p.legend.cy[r] + 'px';
    box.style.gap = p.legend.gap + 'px';
    row.forEach(i => {
      const s = p.series[i];
      const it = document.createElement('div');
      it.className = 'it';
      if (s.kind === 'dot') {
        const dots = document.createElement('span');
        dots.className = 'dots';
        for (let k = 0; k < 4; k++) {
          const dot = document.createElement('i');
          dot.style.background = s.swatch;
          dots.appendChild(dot);
        }
        it.appendChild(dots);
      } else {
        const sw = document.createElement('span');
        sw.className = 'sw';
        sw.style.background = s.swatch;
        it.appendChild(sw);
      }
      const t = document.createElement('span');
      t.textContent = s.label;
      it.appendChild(t);
      box.appendChild(it);
    });
    document.body.appendChild(box);
  });
}

function makePanel(p) {
  const cv = document.createElement('canvas');
  cv.width = p.col.w;
  cv.height = p.row.h;
  cv.style.left = p.col.x + 'px';
  cv.style.top = p.row.top + 'px';
  document.body.appendChild(cv);

  new Chart(cv, {
    type: 'line',
    data: { datasets: p.series.map(toDataset) },
    options: {
      responsive: false,
      animation: false,
      devicePixelRatio: 1,
      layout: { padding: { top: 20, right: p.col.padR, bottom: 0, left: 0 } },
      plugins: { legend: { display: false }, tooltip: { enabled: false }, title: { display: false } },
      scales: {
        x: {
          type: 'linear', min: p.xMin, max: p.xMax,
          grid: { display: false, drawTicks: false }, border: { display: false },
          afterBuildTicks: (s) => { s.ticks = p.ticks.map(v => ({ value: v })); },
          afterFit: (s) => { s.height = 30; },
          ticks: {
            color: INK, padding: p.row.xPad, maxRotation: 0, autoSkip: false,
            font: (c) => ({ family: FONT, size: (c.tick && c.tick.value === p.smallTick) ? 11 : 12.8 }),
            callback: (v) => String(v),
          },
        },
        y: {
          min: 0, max: 100,
          grid: { color: GRID, lineWidth: 1.6, drawTicks: false },
          border: { display: false },
          afterFit: (s) => { s.width = p.col.yw; },
          ticks: {
            stepSize: 10, color: INK, padding: 6,
            font: { family: FONT, size: 12.8 },
            callback: (v) => (v === 0 ? p.zero : String(v)),
          },
        },
      },
    },
  });

  addText('ttl', p.title, p.tx, p.ty);
  addLegend(p);
}

panels.forEach(makePanel);
</script>
</body>
</html>
